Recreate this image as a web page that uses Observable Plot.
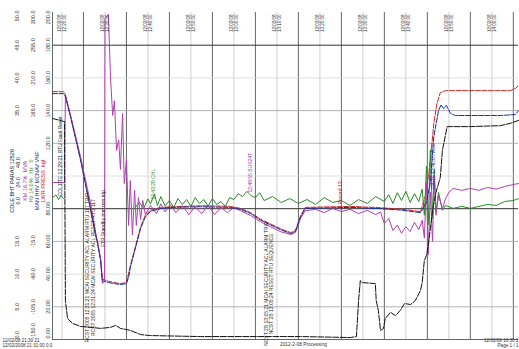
<!DOCTYPE html>
<html><head><meta charset="utf-8">
<script src="https://cdn.jsdelivr.net/npm/d3@7"></script>
<script src="https://cdn.jsdelivr.net/npm/@observablehq/plot@0.6"></script>
<style>body{margin:0;background:#fff}#chart svg{display:block}</style>
</head><body><div id="chart"></div>
<script>
// time in minutes, level in % of full scale
const blackSeries = [[2.8,67.6],[5.4,66.7],[5.6,66.7],[5.8,11.9],[6.3,6.4],[7.5,4.9],[9.3,4.0],[14.0,3.4],[16.3,3.7],[17.5,4.3],[18.6,3.4],[20.9,2.8],[23.3,1.5],[25.6,1.2],[37.2,0.9],[60.5,0.9],[72.1,0.6],[73.5,0.9],[74.0,11.9],[74.4,18.0],[74.9,17.4],[77.9,17.1],[78.1,11.9],[78.6,8.9],[79.1,2.8],[79.8,3.4],[80.2,6.4],[81.4,8.3],[82.6,7.3],[83.7,8.9],[84.7,11.0],[86.1,10.7],[87.2,11.9],[88.4,15.0],[88.8,17.4],[89.3,24.2],[89.8,25.7],[90.2,28.7],[91.2,39.4],[92.0,45.0],[93.0,49.5],[93.5,57.8],[94.6,65.1],[100,65.1],[107,65.4],[109.3,66.1],[111.2,67.0]];
const navySeries = [[2.8,75.2],[5.4,75.2],[5.8,74.3],[7.0,68],[9.3,55],[11.6,40],[12.8,32],[13.3,29.4],[14.0,24],[14.4,18.0],[15.8,17.4],[17.2,17.1],[18.6,16.8],[20.0,17.1],[20.5,19.0],[20.9,22.0],[22.1,28],[23.3,34],[24.4,37.5],[25.6,39.2],[27.9,40.0],[30.2,40.4],[37.2,40.6],[44.2,40.4],[46.5,39.8],[48.9,38.5],[51.2,36.5],[55.8,33.6],[58.2,32.4],[59.3,33.0],[60.5,37.5],[61.6,40.1],[72.1,40.4],[79.1,40.0],[83.7,39.6],[88.4,38.8],[89.8,42],[90.7,48],[91.5,62],[92.6,70.0],[93.2,71.8],[93.8,70.6],[94.4,71.6],[95.4,69.1],[96.5,68.5],[107,68.5],[110.5,68.8],[111.2,70.0]];
const redSeries = [[2.8,75.8],[5.4,75.8],[5.8,74.9],[7.0,68.5],[9.3,55.5],[11.6,40.5],[12.8,32.5],[13.3,29.8],[14.0,24.5],[14.4,18.5],[15.8,17.8],[17.2,17.4],[18.6,17.1],[20.0,17.4],[20.9,22.5],[22.1,28.5],[23.3,34.5],[24.4,38],[25.6,39.6],[27.9,40.4],[37.2,40.9],[44.2,40.7],[46.5,40.1],[48.9,38.8],[51.2,36.8],[55.8,33.9],[58.2,32.7],[59.3,33.3],[60.5,37.8],[61.6,40.4],[72.1,40.7],[79.1,40.3],[83.7,39.9],[88.4,39.1],[89.8,45],[90.7,55],[91.5,66],[92.2,72],[93.0,75.5],[94.2,76.1],[100,76.1],[109.3,76.1],[110.5,76.8],[111.2,77.7]];
const magentaSeries = [[2.8,48.0],[5.4,48.0],[5.6,48.0],[5.8,74.6],[7.0,68.5],[9.3,56],[11.6,42],[12.8,33],[13.3,29],[14.0,24.5],[14.4,17.1],[14.9,18],[15.0,98],[15.8,99.4],[16.3,80],[16.8,68.5],[17.2,73],[17.7,57.8],[18.2,61],[18.6,52],[19.1,69.1],[19.5,47.7],[20.0,55],[20.5,34.9],[20.9,48.6],[21.4,32],[21.9,45.6],[22.3,34.9],[22.8,43.4],[23.3,36.7],[23.8,42.5],[24.4,38.2],[25.6,41.0],[27,38.5],[28,41.5],[29,39.0],[30.2,41.2],[31.5,38.8],[33,41.0],[34.5,38.2],[36,40.6],[37.5,38.5],[39,41.0],[40.5,38.2],[42,40.4],[43.5,38.8],[45,40.4],[46.5,39.4],[48.9,37.9],[51.2,36.0],[55.8,33.0],[58.2,32.1],[59.3,32.7],[60.5,37.0],[61.6,39.4],[64,39.8],[66,38.8],[68,40.1],[70,39.1],[72,39.8],[74,38.5],[76,39.5],[78,38.2],[79.1,39.0],[80,35.5],[81,37.0],[82,33.3],[83,35.0],[84,32.5],[85,34.5],[86,33.0],[87,35.8],[88,33.6],[88.8,36.5],[89.3,31],[89.8,48],[90.2,26],[90.7,45],[91.2,30],[91.6,50],[92,38],[92.6,44],[93.5,40],[94.2,43.0],[95,45.0],[96,46.2],[98,45.6],[100,46.2],[102,45.6],[104,46.5],[106,46.0],[108,46.8],[110,47.4],[111.2,47.7]];
const greenStart = [[2.8,43.4],[3.6,44.2],[4.2,42.8],[4.8,43.9],[5.4,43.1],[5.6,43.4]];
const greenSeries = [[22.1,40.4],[23,42],[24,40],[25,43],[25.6,41.5],[26.5,44.5],[27.2,41],[28,43.7],[29,40.8],[30,42.5],[31,40.4],[32,43.1],[33,41.3],[34,42.8],[35,40.7],[36,43.4],[37,41.6],[38,42.8],[39,40.8],[40,43.1],[41,41.3],[42,42.2],[43,40.7],[44,43.4],[45,42.8],[46,44.6],[47,43.7],[48,45.3],[49,44.0],[50,43.4],[51,44.9],[52,42.5],[54,43.7],[56,41.9],[58,43.1],[60,41.6],[62,42.8],[64,41.3],[66,43.4],[68,41.9],[70,42.5],[72,41.0],[74,42.8],[76,41.6],[78,43.7],[80,42.2],[81,44.3],[82,41.6],[83,44.9],[84,42.5],[85,45.3],[86,41.9],[87,44.6],[88,42.2],[88.8,46],[89.3,38],[89.8,53],[90.2,35],[90.7,58],[91.2,37],[91.6,52],[92,39],[92.6,45],[93.5,39.5],[94.2,41.0],[96,40.1],[98,40.7],[100,40.1],[102,40.7],[104,41.3],[106,41.0],[108,42.2],[110,42.5],[111.2,43.1]];

// axes
const axisTicks = [0,10,20,30,40,50,60,70,80,90,100];
const axis1 = ["0.0","5.0","10.0","15.0","","","","35.0","40.0","45.0","50.0"];
const axis2 = ["-150.0","-105.0","-60.0","-15.0","","","","165.0","210.0","255.0","300.0"];
const axis3 = ["0.00","20.00","40.00","60.00","80.00","","120.0","140.0","160.0","180.0","200.0"];
const majorX = [10,20,30,40,50,60,70,80,90,100,110];
const minorX = [5,15,25,35,45,55,65,75,85,95,105];
const gridDark = [90,40];
const gridMid = [70,60,30,10];
const gridLight = [80,50,20];
const topTimes = ["12:20:00","12:30:00","12:40:00","12:50:00","13:00:00","13:10:00","13:20:00","13:30:00","13:40:00","13:50:00","14:00:00"];

// legend in left margin
const legendTexts = ["CDLE BHT PARAS 12526","0.0      24.0      48.0","KM 16.7%  MVA","Hz 14.0%   Hz   0","MAN HHV MCNAV VNF","LWR PRESS  kgf"];
const legendColors = ["#222","#222","#a030a0","#2a8a2a","#1a2a9a","#c02020"];
const legendOffsets = [-40,-34,-27,-21,-15,-9];

// annotations
const annTimes = [4.6,10.9,12.3,14.6,26.3,48.9,52.6,53.8,69.8,91.4];
const annLevels = [56,22,22,37,47.5,51,17,17,45,53];
const annTexts = ["CDL1ITE 12:29:21 RTU Fault Reset","RCST 2005 12:31:21 MCAI SECURITY ACL ALARM RTU 117 TRIP","RCST 2005 12:31:24 MCAI SECURITY ACL RESET RTU 117","FTP Standby mm rms trip","12:43:28 CHL","12:49:55 BUS24T","NCST 2B 13:05:21 MCAI SECURITY ACL ALARM TRIP","NCST 2B 13:05:24 RESET RTU SEQUENCE","Record 13:","DARS 13:40:07 ACL"];
const annColors = ["#222","#222","#222","#222","#2a8a2a","#a030a0","#222","#222","#c02020","#1a2a9a"];

// footer texts
const footLeft = "12/02/08 21:30:21\n12/02/2008 21:31:00 0.0";
const footCenter = "2012-2-08 Processing";
const footRight = "12/02/08 16:30:2\nPage 1 / 1";

const toRows = s => s.map(([t,v]) => ({t, v}));
const ann = annTimes.map((t,i) => ({t, v: annLevels[i], text: annTexts[i], color: annColors[i]}));
const font = "Liberation Sans, Arial, sans-serif";

const axisCols = [[axis1,-35],[axis2,-19],[axis3,-4]];
const tickIdx = axisTicks.map((d,i) => i);
const midIdx = tickIdx.filter(i => i > 0 && i < axisTicks.length - 1);

const marks = [
  Plot.ruleX(minorX, {stroke: "#c4c4c4", strokeWidth: 0.8}),
  Plot.ruleX(majorX, {stroke: "#555", strokeWidth: 0.9}),
  Plot.ruleY(gridLight, {stroke: "#d8d8d8", strokeWidth: 0.8}),
  Plot.ruleY(gridMid, {stroke: "#aaa", strokeWidth: 0.9}),
  Plot.ruleY(gridDark, {stroke: "#333", strokeWidth: 1}),
  Plot.ruleX([2.8], {stroke: "#666"}),
  Plot.ruleY([0], {stroke: "#666"}),
  Plot.line(toRows(greenStart), {x: "t", y: "v", stroke: "#2a8a2a", strokeWidth: 1}),
  Plot.line(toRows(redSeries), {x: "t", y: "v", stroke: "#c82828", strokeWidth: 1, strokeDasharray: "5,1.5"}),
  Plot.line(toRows(greenSeries), {x: "t", y: "v", stroke: "#2a8a2a", strokeWidth: 1}),
  Plot.line(toRows(magentaSeries), {x: "t", y: "v", stroke: "#b040b0", strokeWidth: 1}),
  Plot.line(toRows(navySeries), {x: "t", y: "v", stroke: "#1a2a9a", strokeWidth: 1, strokeDasharray: "5,1.5"}),
  Plot.line(toRows(blackSeries), {x: "t", y: "v", stroke: "#111", strokeWidth: 1, strokeDasharray: "6,1.5"}),
  Plot.text(ann, {x: "t", y: "v", text: "text", fill: "color", rotate: -90, fontSize: 5, textAnchor: "middle"}),
  Plot.text(minorX, {x: d => d, y: 100, text: (d,i) => "12/02/08\n" + topTimes[i], rotate: -90, textAnchor: "end", fontSize: 4.5, lineHeight: 1.1, dy: 2, fill: "#333"})
];
axisCols.forEach(([labels, dx]) => {
  marks.push(
    Plot.text(midIdx, {y: i => axisTicks[i], frameAnchor: "left", dx, text: i => labels[i], rotate: -90, textAnchor: "middle", fontSize: 5.5, fill: "#333"}),
    Plot.text([0], {y: i => axisTicks[i], frameAnchor: "left", dx, dy: -1, text: i => labels[i], rotate: -90, textAnchor: "start", fontSize: 5.5, fill: "#333"}),
    Plot.text([axisTicks.length - 1], {y: i => axisTicks[i], frameAnchor: "left", dx, dy: -2, text: i => labels[i], rotate: -90, textAnchor: "end", fontSize: 5.5, fill: "#333"})
  );
});
legendTexts.forEach((txt, i) => {
  marks.push(Plot.text([txt], {y: 48.5, frameAnchor: "left", dx: legendOffsets[i], text: d => d, rotate: -90, textAnchor: "middle", fontSize: 5.5, fill: legendColors[i]}));
});
marks.push(
  Plot.text([footLeft], {frameAnchor: "bottom-left", dx: -50, dy: -1, lineAnchor: "top", textAnchor: "start", text: d => d, fontSize: 4.6, lineHeight: 1.1, fill: "#333"}),
  Plot.text([footCenter], {frameAnchor: "bottom", dx: 18, dy: 3, lineAnchor: "top", text: d => d, fontSize: 4.8, fill: "#333"}),
  Plot.text([footRight], {frameAnchor: "bottom-right", dx: 0, dy: -1, lineAnchor: "top", textAnchor: "end", text: d => d, fontSize: 4.6, lineHeight: 1.1, fill: "#333"})
);

const chart = Plot.plot({
  width: 519, height: 349,
  marginTop: 12, marginBottom: 10, marginLeft: 52, marginRight: 1,
  x: {domain: [2.8, 111.2], axis: null},
  y: {domain: [0, 100], axis: null},
  style: {fontFamily: font, background: "#fff"},
  marks
});
document.getElementById("chart").appendChild(chart);
</script>
</body></html>
